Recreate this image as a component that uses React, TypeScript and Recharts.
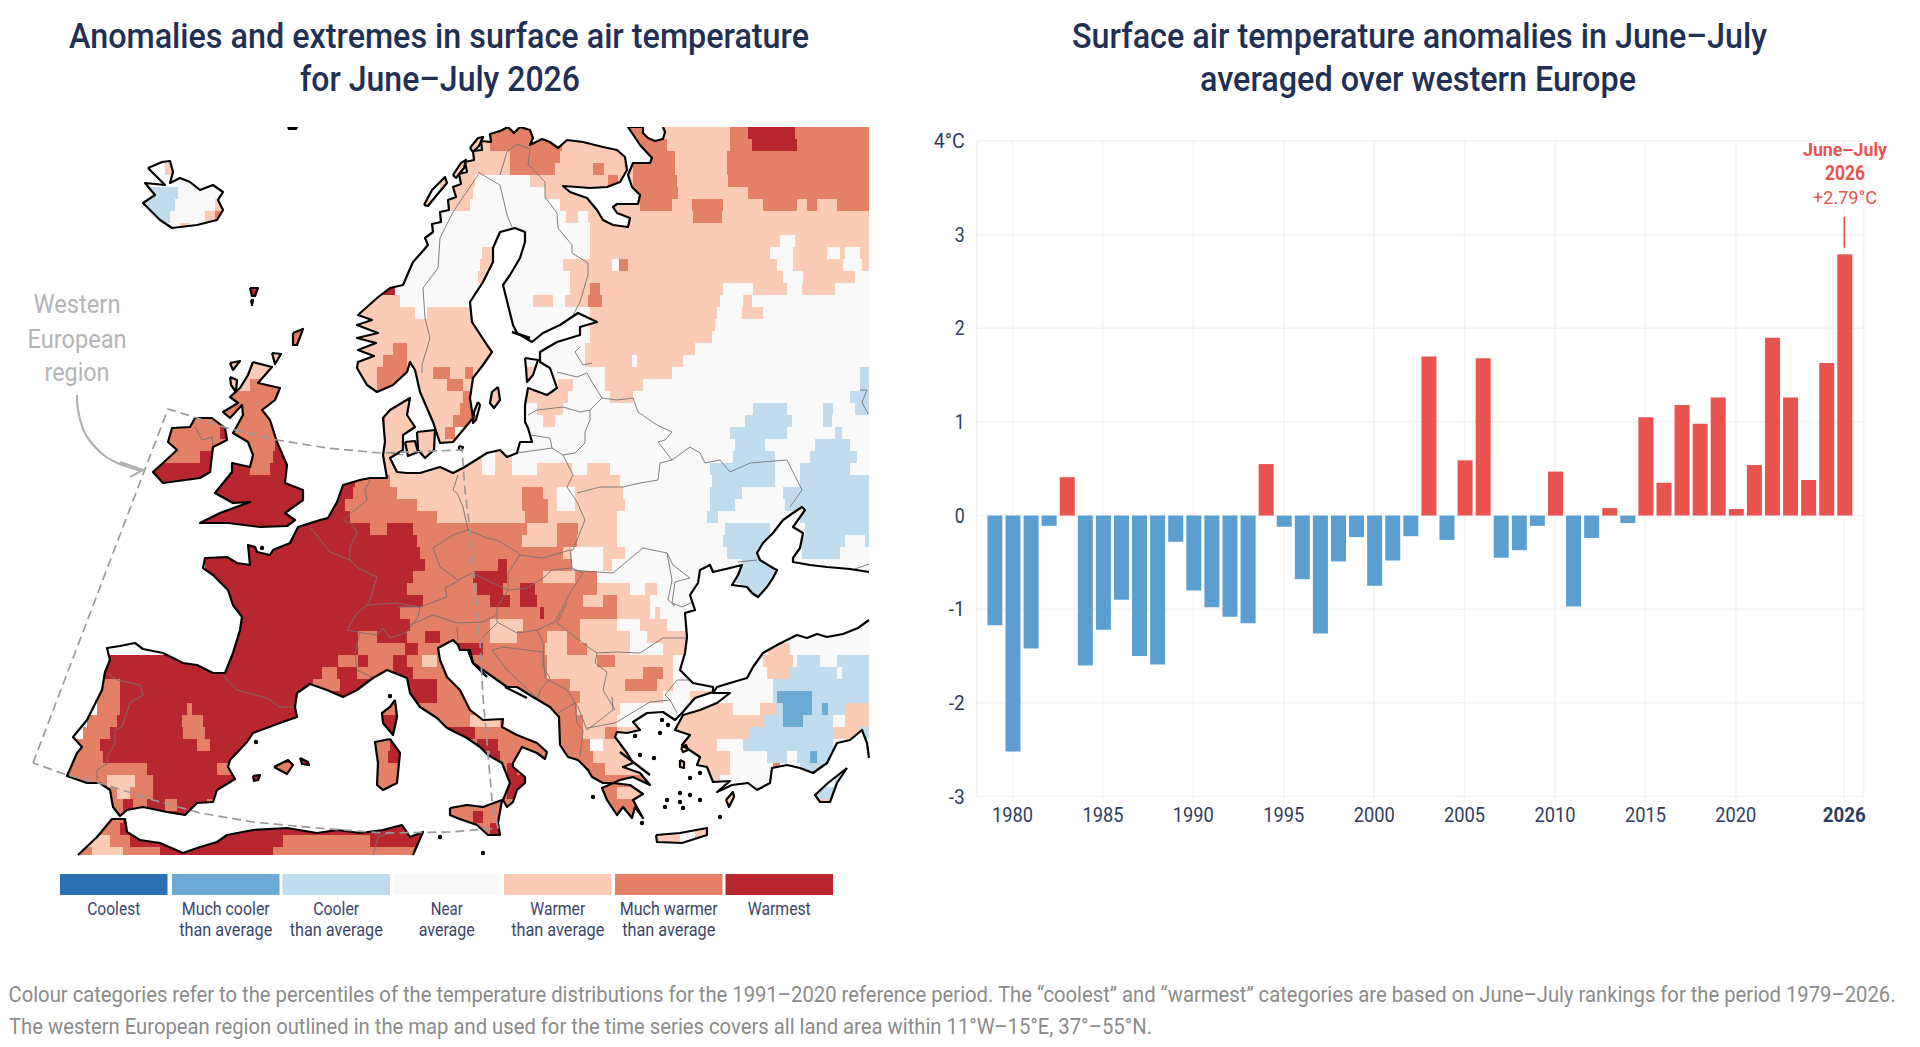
import { BarChart, Bar, Cell, XAxis, YAxis, CartesianGrid, ReferenceLine, ReferenceArea, ScatterChart, Scatter } from 'recharts'

const NAVY = '#1f3054'
const RED = '#e8534f'
const BLUE = '#5a9fd0'

const years = [1979, 1980, 1981, 1982, 1983, 1984, 1985, 1986, 1987, 1988, 1989, 1990, 1991, 1992, 1993, 1994, 1995, 1996, 1997, 1998, 1999, 2000, 2001, 2002, 2003, 2004, 2005, 2006, 2007, 2008, 2009, 2010, 2011, 2012, 2013, 2014, 2015, 2016, 2017, 2018, 2019, 2020, 2021, 2022, 2023, 2024, 2025, 2026]
const anomalies = [-1.17, -2.52, -1.42, -0.11, 0.41, -1.6, -1.22, -0.9, -1.5, -1.59, -0.28, -0.8, -0.98, -1.08, -1.15, 0.55, -0.12, -0.68, -1.26, -0.49, -0.23, -0.75, -0.48, -0.22, 1.7, -0.26, 0.59, 1.68, -0.45, -0.37, -0.11, 0.47, -0.97, -0.24, 0.08, -0.08, 1.05, 0.35, 1.18, 0.98, 1.26, 0.07, 0.54, 1.9, 1.26, 0.38, 1.63, 2.79]
const yearTicks = [1980, 1985, 1990, 1995, 2000, 2005, 2010, 2015, 2020, 2026]
const valueTicks = [-3, -2, -1, 0, 1, 2, 3, 4]

const barData = years.map((year, i) => ({ year, value: anomalies[i] }))

const legendColors = ['#2b71b2', '#6aaad3', '#c1dcec', '#f9f9f9', '#fbcbb5', '#e48066', '#b8262f']
const legendNames = [['Coolest'], ['Much cooler', 'than average'], ['Cooler', 'than average'], ['Near', 'average'], ['Warmer', 'than average'], ['Much warmer', 'than average'], ['Warmest']]

const categoryFill: Record<string, string> = { b: '#c1dcec', B: '#6aaad3', n: '#f9f9f9', w: '#fbcbb5', W: '#e48066', R: '#b8262f' }

// map raster, one string per 12-unit row: each token is the x where a class starts
const rasterRows = [
  '470W 660w 730W 748R 795W',
  '470w 490W 562w 630W 667w 730W 752R 797W',
  '470w 510W 560w 640W 675w 727W',
  '165w 178n 440w 510W 555w 593W 604w 633W 675w 727W',
  '140n 440w 475n 530w 608W 618w 633W 677w 728W',
  '140b 178n 440w 473n 545w 635W 678w 748W',
  '140b 175n 215w 440w 470n 560w 640W 672w 692W 723w 763W 797w 807W 817w 837W',
  '140b 170n 205w 215W 225n 566w 578n 588w 693W 722w',
  '140n 180w 190n 200w 225n 590w',
  '430n 590w 780n 795w',
  '395n 482w 495n 590w 770n 793w 827n 840w 845n 860w',
  '395n 480w 495n 563w 612n 619W 628w 777n 793w 843n 862w',
  '395n 478w 490n 570w 783n 803w 855n',
  '240R 395n 570w 590W 600w 723n 753w 787n 802w 835n',
  '355w 400n 533w 553n 565w 588W 602w 720n 743w 752n',
  '355w 415n 427w 500n 590w 717n 742w 763n',
  '355w 505n 590w 715n',
  '285W 355w 500n 590w 712n',
  '285W 355w 393W 407w 500n 585w 695n',
  '230w 355w 383W 407w 500n 585w 632n 637w 683n',
  '230w 355w 377W 410w 433W 450w 465W 473w 540n 605w 672n 860b',
  '230w 250W 355w 377W 398w 447W 463w 473W 480w 520n 558w 573n 605w 643n 860b',
  '225W 380w 463W 475w 568n 610w 633n 850b',
  '225W 380w 460W 475n 537w 563n 753b 787n 823b 833n 855b',
  '165W 385w 453W 480n 543w 555n 745b 792n 823b 832n',
  '165W 220R 228W 385w 445W 455n 730b 787n 835b 842n',
  '165W 275R 295w 455n 735b 765n 815b 850n',
  '160W 200R 215W 273R 290w 482n 495w 512n 733b 775n 810b 857n',
  '150R 250W 270R 290w 482n 495w 512n 537w 572n 587w 610n 710b 775n 800b 850n',
  '150R 345R 355W 390w 620n 712b 775n 800b',
  '150R 345R 353W 397w 522W 543w 557n 575w 623n 710b 742n 783b',
  '200R 345W 417w 522W 548w 557n 575w 625n 710b 735n 785b',
  '200R 350W 437w 525W 548w 617n 707b 718n 800b',
  '200R 370W 387R 413W 527w 557W 578w 617n 725b 770n 805b',
  '205R 417W 522w 557W 577w 617n 723b 770n 802b 845n 865b',
  '205R 420W 563w 572n 603w 625n 727b 765n 802b 840n',
  '205R 425W 498R 507W 572n 603w 612n 742b 775n',
  '205R 413W 473R 507W 543w 575W 597n 733b 775n',
  '205R 407W 477R 503W 520R 535W 597w 630n 645w 657n 740b',
  '205R 423W 490R 510W 520R 537W 583w 603W 617w 650n',
  '205R 400W 540R 544W 600W 617w 650n 655w 660n',
  '205R 410W 490w 523W 550W 580w 617n 640w 667n',
  '205R 358W 377R 407W 425R 440W 490w 517W 547w 567W 580w 630n 647w 690n',
  '205R 358W 405R 418W 457R 483W 545w 567W 587w 630n 663w 690n 768w 790n',
  '105R 338W 358R 368W 393R 407W 422w 437W 547w 597W 615w 673n 763w 793n 797b 820n 837b',
  '103R 322W 337R 357W 393R 413W 547w 600w 643W 663w 673n 733n 767w 790b 837n 842b',
  '103W 120R 313W 340R 393R 437W 570w 625W 657w 673n 730n 773b',
  '97W 120R 415R 437W 580w 663n 690w 713n 773b 777B 812b',
  '97W 120R 187W 192R 380W 417W 560W 577w 620n 687w 733n 760w 775b 783B 812b 822B 828b 845w',
  '87W 117R 182W 203R 380R 400W 470w 500W 560W 583w 617n 677w 763b 783B 803b 833n 845w',
  '83W 110R 183W 205R 447R 475W 557W 583w 605W 617w 677w 750b 833w 860b',
  '77W 100R 197W 210R 373W 390R 405W 477R 498W 557W 590n 603w 617w 700w 717n 743b 833n',
  '73W 103R 373W 388R 402W 490R 500W 563W 593w 640w 707w 730n 767b 787n 797b 810B 817b 830n',
  '68W 147R 217W 232R 275W 297R 373W 507R 517W 577W 605w 640w 707w 730n 773W 780n 800b 830n',
  '68W 107w 135W 153R 373W 507R 527W 593W 650w 700w 720n 815n 835b',
  '105W 117w 130W 153R 373W 507R 600W 617w 640w 815b 838n',
  '105W 123R 133W 147R 165W 177R 207W 215R 450W 600W 640w',
  '105W 123R 450W 473R 483W 500W',
  '100W 120R 477W 490R 500W 650w 680n 695w',
  '85w 110W 130R 283W 340W 370R 650w 680n 695w',
  '75W 92w 123W 160R 273W',
]

const mainland = [[500, 131], [508, 127], [514, 133], [520, 127], [530, 130], [533, 138], [530, 145], [542, 139], [550, 142], [558, 148], [567, 140], [583, 142], [603, 147], [617, 150], [625, 157], [627, 170], [620, 182], [607, 187], [590, 188], [577, 187], [563, 186], [570, 192], [587, 198], [597, 210], [603, 220], [613, 225], [628, 227], [630, 218], [617, 213], [613, 207], [617, 204], [638, 204], [640, 195], [632, 187], [628, 175], [633, 163], [650, 163], [652, 158], [640, 145], [628, 127], [643, 127], [643, 133], [648, 138], [655, 141], [663, 139], [665, 132], [663, 127], [869, 127], [869, 572], [850, 569], [827, 567], [810, 565], [793, 562], [793, 558], [800, 548], [803, 533], [793, 527], [805, 510], [802, 507], [793, 513], [783, 520], [773, 533], [763, 543], [757, 553], [760, 560], [773, 568], [777, 570], [773, 578], [767, 587], [758, 597], [752, 593], [747, 587], [732, 585], [738, 575], [742, 565], [730, 568], [713, 572], [710, 565], [700, 570], [698, 583], [690, 595], [695, 610], [685, 613], [687, 637], [685, 653], [680, 670], [693, 683], [713, 687], [713, 692], [695, 698], [682, 713], [675, 720], [663, 712], [647, 713], [633, 722], [640, 730], [627, 733], [617, 732], [615, 737], [627, 753], [633, 763], [623, 767], [640, 773], [650, 785], [633, 777], [620, 780], [602, 788], [607, 800], [617, 815], [623, 807], [632, 818], [635, 807], [643, 818], [633, 800], [643, 794], [630, 785], [613, 783], [603, 783], [592, 777], [588, 770], [578, 760], [568, 757], [560, 745], [559, 717], [550, 707], [533, 697], [517, 687], [507, 687], [483, 670], [473, 663], [470, 650], [460, 650], [458, 645], [453, 640], [438, 648], [440, 660], [447, 677], [460, 690], [470, 710], [483, 720], [503, 719], [502, 727], [517, 735], [537, 743], [547, 752], [545, 759], [537, 753], [522, 747], [513, 763], [513, 767], [525, 777], [525, 783], [517, 790], [513, 802], [507, 807], [503, 800], [510, 783], [502, 763], [488, 755], [480, 747], [467, 738], [447, 728], [437, 718], [420, 707], [410, 693], [407, 678], [387, 670], [373, 678], [357, 690], [343, 697], [327, 690], [310, 684], [297, 693], [295, 707], [297, 717], [280, 723], [253, 733], [247, 742], [230, 760], [228, 767], [235, 779], [217, 790], [213, 802], [197, 803], [185, 815], [167, 812], [143, 807], [127, 810], [120, 816], [113, 807], [110, 790], [100, 783], [87, 783], [67, 776], [77, 753], [82, 747], [73, 737], [87, 720], [102, 690], [105, 672], [110, 660], [107, 648], [120, 646], [135, 643], [143, 649], [163, 653], [183, 663], [197, 665], [213, 673], [225, 673], [233, 653], [240, 630], [242, 617], [233, 605], [228, 590], [213, 575], [203, 568], [205, 558], [227, 557], [237, 563], [250, 565], [248, 545], [255, 547], [257, 552], [270, 555], [273, 550], [290, 543], [298, 527], [320, 520], [328, 518], [337, 502], [343, 485], [360, 480], [370, 478], [387, 478], [383, 455], [385, 442], [383, 418], [390, 410], [410, 398], [407, 415], [415, 427], [403, 435], [403, 450], [390, 458], [397, 472], [407, 473], [420, 473], [440, 467], [453, 473], [463, 468], [487, 453], [500, 450], [507, 457], [517, 453], [520, 442], [532, 442], [528, 428], [525, 422], [525, 405], [528, 388], [547, 395], [557, 388], [550, 368], [540, 362], [540, 352], [557, 342], [580, 335], [580, 327], [597, 322], [578, 313], [560, 325], [543, 333], [532, 342], [517, 333], [513, 325], [508, 305], [503, 285], [510, 275], [520, 258], [525, 242], [525, 232], [515, 228], [500, 232], [493, 248], [493, 262], [483, 282], [470, 302], [472, 322], [487, 345], [492, 352], [483, 365], [473, 378], [470, 398], [473, 418], [453, 442], [440, 443], [433, 422], [420, 392], [415, 370], [410, 362], [407, 372], [393, 385], [377, 392], [367, 385], [357, 368], [358, 362], [374, 356], [358, 350], [376, 343], [357, 338], [378, 333], [357, 325], [372, 320], [358, 315], [377, 298], [390, 288], [403, 285], [413, 262], [422, 252], [428, 245], [425, 238], [433, 232], [432, 224], [441, 222], [440, 212], [449, 210], [448, 200], [456, 197], [453, 187], [461, 184], [459, 174], [467, 172], [465, 162], [474, 160], [473, 151], [482, 150], [481, 141], [491, 142], [490, 134]]
const anatolia = [[713, 693], [730, 693], [717, 703], [700, 710], [683, 715], [675, 730], [690, 735], [682, 745], [700, 757], [697, 765], [707, 767], [713, 782], [730, 781], [717, 792], [732, 785], [748, 783], [757, 790], [770, 783], [772, 768], [787, 765], [800, 768], [813, 773], [827, 763], [837, 743], [850, 740], [862, 730], [867, 743], [869, 758], [869, 620], [858, 628], [843, 634], [827, 637], [817, 634], [807, 638], [797, 635], [777, 645], [763, 653], [753, 667], [747, 678], [730, 683], [717, 687]]
const africa = [[78, 855], [97, 837], [112, 819], [125, 819], [127, 832], [140, 840], [160, 843], [183, 853], [200, 847], [217, 842], [227, 835], [253, 830], [287, 828], [317, 833], [337, 830], [360, 833], [383, 830], [402, 825], [410, 837], [423, 832], [413, 855]]
const iceland = [[148, 168], [162, 162], [170, 161], [173, 172], [170, 183], [180, 178], [190, 182], [200, 190], [213, 185], [223, 192], [218, 200], [223, 210], [217, 220], [197, 225], [172, 228], [160, 220], [143, 203], [155, 195], [145, 183], [165, 185], [160, 180]]
const ireland = [[195, 418], [212, 418], [225, 428], [227, 440], [213, 447], [210, 472], [200, 478], [163, 483], [153, 472], [163, 463], [177, 450], [168, 442], [172, 428], [190, 427]]
const britain = [[253, 362], [272, 367], [258, 383], [280, 388], [275, 400], [262, 410], [270, 420], [277, 442], [287, 465], [285, 483], [303, 490], [303, 500], [285, 513], [295, 520], [287, 526], [260, 527], [228, 523], [200, 523], [220, 513], [250, 502], [233, 503], [215, 493], [232, 472], [232, 463], [250, 467], [253, 455], [248, 442], [233, 433], [243, 415], [242, 405], [230, 418], [223, 412], [238, 403], [230, 397], [240, 388], [248, 375]]
const corsica = [[395, 700], [397, 717], [393, 735], [383, 723], [382, 713], [390, 707]]
const sardinia = [[390, 739], [400, 753], [397, 783], [383, 790], [377, 785], [378, 763], [375, 742]]
const sicily = [[450, 808], [467, 805], [483, 807], [502, 800], [498, 823], [500, 835], [488, 835], [477, 825], [457, 818], [450, 815]]
const crete = [[656, 835], [680, 833], [707, 828], [707, 835], [682, 843], [657, 842]]
const cyprus = [[847, 768], [837, 783], [830, 802], [820, 802], [815, 795], [828, 783]]
const smallIslands = [
  [[230, 363], [240, 361], [233, 370]],
  [[230, 377], [237, 380], [236, 392], [231, 385]],
  [[272, 353], [281, 354], [275, 364]],
  [[293, 333], [303, 329], [297, 345], [293, 345]],
  [[250, 288], [258, 288], [255, 296], [252, 296]],
  [[251, 300], [253, 300], [252, 305]],
  [[288, 127], [297, 127], [296, 129], [289, 129]],
  [[498, 387], [492, 392], [490, 403], [494, 408], [500, 400]],
  [[478, 402], [480, 405], [476, 420], [473, 423], [474, 412]],
  [[525, 358], [538, 360], [533, 375], [527, 382], [526, 368]],
  [[405, 442], [415, 441], [418, 452], [408, 456]],
  [[417, 432], [435, 430], [434, 450], [425, 458], [418, 450]],
  [[459, 446], [463, 447], [462, 450], [459, 450]],
  [[274, 767], [288, 760], [293, 765], [287, 774]],
  [[300, 758], [308, 762], [309, 765], [302, 764]],
  [[253, 776], [260, 775], [258, 780], [254, 781]],
  [[726, 800], [733, 792], [734, 797], [729, 807]],
  [[424, 205], [432, 190], [445, 177], [447, 183], [436, 196], [428, 206]],
  [[453, 175], [461, 163], [466, 160], [464, 168], [456, 178]],
  [[470, 148], [478, 138], [483, 137], [479, 146], [473, 152]],
  [[681, 748], [686, 745], [688, 750], [683, 752]],
  [[680, 760], [684, 762], [684, 768], [680, 767]],
]
const coastSpurs = [
  [[512, 332], [530, 338]], [[505, 687], [527, 698]],
  [[468, 650], [473, 663], [487, 677]], [[620, 752], [650, 775]],
]
const islets = [[668, 725], [660, 733], [635, 736], [662, 720], [640, 755], [654, 758], [690, 778], [700, 773], [680, 793], [690, 795], [700, 800], [667, 800], [680, 802], [665, 807], [683, 808], [720, 817], [593, 797], [642, 823], [440, 837], [483, 853], [390, 696], [262, 548], [256, 742]]

const borders = [
  [[478, 175], [453, 212], [440, 238], [438, 268], [423, 288], [425, 318], [430, 338], [422, 365], [422, 373]],
  [[478, 172], [500, 185], [507, 215], [512, 227]],
  [[500, 175], [507, 152], [517, 144], [530, 149], [528, 165], [532, 168], [545, 182], [545, 197], [557, 213], [558, 228], [572, 245], [572, 253], [588, 263], [588, 275], [580, 302], [572, 317]],
  [[580, 347], [575, 352], [583, 365], [592, 363]],
  [[557, 372], [577, 377], [587, 373], [592, 382], [602, 398]],
  [[528, 415], [537, 410], [563, 407], [580, 412], [590, 410], [602, 398], [617, 400], [633, 398], [638, 412], [657, 425], [672, 432], [665, 440], [658, 442], [672, 460], [690, 447], [700, 453], [705, 463], [720, 460], [730, 472], [750, 463], [787, 460], [793, 472], [802, 490], [790, 507]],
  [[590, 410], [590, 420], [585, 432], [585, 443], [575, 453], [563, 455], [552, 448], [550, 438], [530, 435]],
  [[517, 453], [552, 448]],
  [[563, 455], [573, 475], [567, 487], [577, 502], [585, 520], [573, 550], [570, 550]],
  [[577, 493], [600, 487], [623, 487], [640, 483], [658, 480], [660, 463], [672, 460]],
  [[458, 475], [453, 490], [457, 493], [463, 507], [468, 530], [453, 535], [433, 548], [440, 567], [458, 580], [472, 573], [497, 585], [508, 590]],
  [[468, 530], [487, 538], [497, 540], [517, 552], [520, 555], [543, 558], [570, 550], [572, 568], [552, 570], [543, 578], [527, 588], [508, 590], [508, 573], [520, 555]],
  [[508, 590], [497, 607], [497, 622], [517, 633], [537, 630], [555, 622], [570, 593], [583, 573], [572, 568]],
  [[572, 570], [597, 572], [613, 573], [632, 557], [643, 548], [667, 553], [673, 565], [690, 578], [675, 582], [672, 603], [682, 607], [693, 602]],
  [[667, 553], [672, 580], [668, 600], [675, 606]],
  [[687, 638], [663, 638], [640, 653], [617, 652], [597, 653], [595, 663], [607, 672], [603, 690], [615, 710]],
  [[567, 603], [557, 623], [570, 633], [588, 647], [597, 653]],
  [[483, 637], [497, 623]],
  [[457, 627], [458, 640]],
  [[410, 625], [433, 615], [457, 623], [483, 622], [497, 615]],
  [[397, 607], [420, 607], [447, 597], [445, 588], [460, 580]],
  [[347, 630], [357, 613], [367, 605], [397, 603], [420, 607], [418, 617], [407, 632], [390, 638], [383, 628], [377, 635], [363, 633], [347, 630]],
  [[377, 577], [370, 600], [367, 605]],
  [[377, 577], [358, 568], [350, 560], [330, 552], [310, 527]],
  [[350, 560], [350, 547], [357, 533], [353, 525], [343, 520], [367, 500], [365, 490], [370, 480]],
  [[390, 453], [403, 455]],
  [[360, 633], [355, 653], [357, 670], [373, 678]],
  [[223, 675], [237, 690], [267, 698], [280, 707], [295, 707]],
  [[107, 673], [117, 680], [140, 685], [143, 695], [130, 703], [122, 727], [115, 730], [115, 743], [107, 757], [108, 763], [97, 770], [97, 780]],
  [[373, 855], [378, 837], [392, 832]],
  [[195, 427], [202, 440], [212, 437], [213, 445]],
  [[492, 650], [503, 647], [527, 650], [543, 652], [543, 667], [550, 678], [540, 690], [538, 698]],
  [[492, 650], [507, 670], [537, 698]],
  [[537, 630], [543, 643], [545, 678], [567, 690], [578, 707], [587, 730], [613, 710], [612, 697]],
  [[558, 713], [575, 703], [577, 723], [583, 730], [580, 757]],
  [[587, 728], [615, 723], [650, 702], [670, 700], [677, 713]],
  [[670, 700], [665, 695], [677, 680], [690, 680]],
  [[738, 562], [757, 560]],
  [[852, 570], [869, 564]],
  [[860, 390], [867, 390], [862, 402], [868, 414]],
]
const regionOutline = [[33, 763], [168, 409], [197, 418], [227, 428], [277, 440], [327, 448], [380, 453], [462, 450], [465, 490], [470, 530], [480, 643], [483, 697], [492, 800], [498, 828], [450, 832], [383, 833], [317, 828], [253, 822], [200, 813], [153, 800], [107, 785], [67, 775], [33, 763]]
const regionArrow = [[77, 395], [78, 410], [83, 429], [90, 441], [100, 452], [115, 462], [141, 471]]
const arrowHead = [[120, 462], [143, 470], [130, 477]]

const toPoints = (pts: number[][]) => pts.map(([x, y]) => ({ x, y }))
const closed = (pts: number[][]) => [...pts, pts[0]]

const landRings = [mainland, anatolia, africa, iceland, ireland, britain, corsica, sardinia, sicily, crete, cyprus, ...smallIslands]

// open coast lines: the map frame itself gets no stroke
const startAt = (pts: number[][], x: number, y: number) => {
  const i = pts.findIndex((p) => p[0] === x && p[1] === y)
  return [...pts.slice(i), ...pts.slice(0, i)]
}
const coastLines = [
  startAt(mainland, 869, 572).slice(0, -1),
  startAt(anatolia, 869, 620),
  africa,
  ...[iceland, ireland, britain, corsica, sardinia, sicily, crete, cyprus, ...smallIslands].map(closed),
]

const rasterCells = rasterRows.flatMap((row, i) => {
  const tokens = row.split(' ').map((t) => ({ x: parseInt(t, 10), c: t.slice(-1) }))
  return tokens.map((t, j) => ({
    x1: t.x,
    x2: j < tokens.length - 1 ? tokens[j + 1].x : 870,
    y1: 127 + i * 12,
    y2: Math.min(127 + (i + 1) * 12, 856),
    fill: categoryFill[t.c],
  }))
})

// the land rings, merged into one path, are what the raster is cut with
function LandClip(props: any) {
  let at = 0
  const d = landRings.map((ring) => {
    const pts = props.points.slice(at, at + ring.length)
    at += ring.length
    return 'M' + pts.map((p: any) => `${p.x},${p.y}`).join('L') + 'Z'
  }).join('')
  return <defs><clipPath id="landClip"><path d={d} /></clipPath></defs>
}

const noDot = () => null

const ClippedCell = (p: any) => <rect x={p.x} y={p.y} width={p.width} height={p.height} fill={p.fill} clipPath="url(#landClip)" shapeRendering="crispEdges" />

function YearTick({ x, y, payload }: any) {
  const bold = payload.value === 2026
  return (
    <text x={x} y={y + 10} textAnchor="middle" dominantBaseline="central" fontFamily="Roboto" fontSize={20} fontWeight={bold ? 700 : 400} fill="#2f3d60" textLength={bold ? 43 : 41} lengthAdjust="spacingAndGlyphs">
      {payload.value}
    </text>
  )
}

function ValueTick({ x, y, payload }: any) {
  const label = payload.value === 4 ? '4°C' : String(payload.value)
  return (
    <text x={x} y={y} textAnchor="end" dominantBaseline="central" fontFamily="Roboto" fontSize={20} fill="#2f3d60" textLength={label.length === 3 ? 31 : label.length === 2 ? 16 : 10} lengthAdjust="spacingAndGlyphs">
      {label}
    </text>
  )
}

function T({ x, y, w, size, fill, weight = 400, children }: any) {
  return (
    <text x={x} y={y} textAnchor="middle" dominantBaseline="central" fontFamily="Roboto" fontSize={size} fontWeight={weight} fill={fill} textLength={w} lengthAdjust="spacingAndGlyphs">
      {children}
    </text>
  )
}

const legendX = [60, 172, 282.5, 393, 504, 615, 725.5]
const legendLabelWidths = [[53], [88, 93], [46, 93], [32, 56], [55, 93], [98, 93], [63]]

export default function App() {
  return (
    <div style={{ position: 'absolute', left: 0, top: 0, width: 1920, height: 1047, background: '#fff', overflow: 'hidden' }}>
      {/* map: colours cut to the land, then coast, borders, region outline */}
      <div style={{ position: 'absolute', left: 0, top: 127 }}>
        <ScatterChart width={880} height={735} margin={{ top: 0, right: 0, bottom: 0, left: 0 }}>
          <XAxis type="number" dataKey="x" domain={[0, 880]} hide />
          <YAxis type="number" dataKey="y" domain={[127, 862]} reversed hide />
          {rasterCells.map((c, i) => (
            <ReferenceArea key={i} x1={c.x1} x2={c.x2} y1={c.y1} y2={c.y2} fill={c.fill} fillOpacity={1} stroke="none" ifOverflow="visible" shape={ClippedCell} />
          ))}
          <Scatter data={toPoints(landRings.flat())} line={LandClip} shape={noDot} isAnimationActive={false} />
          {borders.map((b, i) => (
            <Scatter key={i} data={toPoints(b)} line={{ stroke: '#77706f', strokeWidth: 0.9 }} shape={noDot} isAnimationActive={false} />
          ))}
          {coastLines.map((r, i) => (
            <Scatter key={i} data={toPoints(r)} line={{ stroke: '#000', strokeWidth: 2.2, strokeLinejoin: 'round' }} shape={noDot} isAnimationActive={false} />
          ))}
          {coastSpurs.map((s, i) => (
            <Scatter key={i} data={toPoints(s)} line={{ stroke: '#000', strokeWidth: 2.4 }} shape={noDot} isAnimationActive={false} />
          ))}
          <Scatter data={toPoints(islets)} shape={(p: any) => <circle cx={p.cx} cy={p.cy} r={2.2} fill="#000" />} isAnimationActive={false} />
          <Scatter data={toPoints(regionOutline)} line={{ stroke: '#9a9a9a', strokeWidth: 1.7, strokeDasharray: '9 5' }} shape={noDot} isAnimationActive={false} />
          <Scatter data={toPoints(regionArrow)} line={{ stroke: '#b0b0b0', strokeWidth: 2.2 }} lineJointType="natural" shape={noDot} isAnimationActive={false} />
          <Scatter data={toPoints(arrowHead)} line={{ stroke: '#b0b0b0', strokeWidth: 2.2 }} shape={noDot} isAnimationActive={false} />
        </ScatterChart>
      </div>

      {/* bars */}
      <div style={{ position: 'absolute', left: 900, top: 131 }}>
        <BarChart width={1000} height={730} data={barData} margin={{ top: 10, right: 36.4, bottom: 24.5, left: 0 }} barSize={15}>
          <CartesianGrid stroke="#f3f3f3" strokeWidth={1.5} />
          <XAxis dataKey="year" ticks={yearTicks} interval={0} height={40} padding={{ left: 8.6, right: 10.2 }} tick={<YearTick />} tickLine={{ stroke: '#f3f3f3', strokeWidth: 1.5 }} tickSize={6} axisLine={false} />
          <YAxis type="number" domain={[-3, 4]} ticks={valueTicks} width={76.8} tick={<ValueTick />} tickLine={false} tickSize={0} tickMargin={12} axisLine={false} />
          <Bar dataKey="value" isAnimationActive={false}>
            {barData.map((d) => (
              <Cell key={d.year} fill={d.value >= 0 ? RED : BLUE} />
            ))}
          </Bar>
          <ReferenceLine segment={[{ x: 2026, y: 3.19 }, { x: 2026, y: 2.86 }]} stroke={RED} strokeWidth={1.6} />
        </BarChart>
      </div>

      {/* titles, legend, notes */}
      <svg width={1920} height={1047} style={{ position: 'absolute', left: 0, top: 0, pointerEvents: 'none' }}>
        <T x={439} y={36} w={740} size={35} weight={500} fill={NAVY}>Anomalies and extremes in surface air temperature</T>
        <T x={440} y={79} w={280} size={35} weight={500} fill={NAVY}>for June–July 2026</T>
        <T x={1419.5} y={36} w={695} size={35} weight={500} fill={NAVY}>Surface air temperature anomalies in June–July</T>
        <T x={1418} y={79} w={436} size={35} weight={500} fill={NAVY}>averaged over western Europe</T>

        <T x={1845} y={150} w={84} size={18.5} weight={700} fill={RED}>June–July</T>
        <T x={1845} y={173} w={40} size={20} weight={700} fill={RED}>2026</T>
        <T x={1845} y={198} w={64} size={18.5} fill={RED}>+2.79°C</T>

        <T x={77} y={304} w={87} size={26} fill="#b4b4b4">Western</T>
        <T x={77} y={339} w={99} size={26} fill="#b4b4b4">European</T>
        <T x={77} y={372} w={65} size={26} fill="#b4b4b4">region</T>

        {legendColors.map((c, i) => (
          <rect key={c} x={legendX[i]} y={874} width={107.5} height={21} fill={c} />
        ))}
        {legendNames.map((lines, i) =>
          lines.map((line, j) => (
            <T key={line + i} x={legendX[i] + 53.75} y={909 + j * 20.5} w={legendLabelWidths[i][j]} size={17.5} fill="#3a466a">{line}</T>
          )),
        )}

        <T x={952} y={994} w={1887} size={22} fill="#8b8b8b">Colour categories refer to the percentiles of the temperature distributions for the 1991–2020 reference period. The “coolest” and “warmest” categories are based on June–July rankings for the period 1979–2026.</T>
        <T x={580.5} y={1026} w={1143} size={22} fill="#8b8b8b">The western European region outlined in the map and used for the time series covers all land area within 11°W–15°E, 37°–55°N.</T>
      </svg>
    </div>
  )
}
